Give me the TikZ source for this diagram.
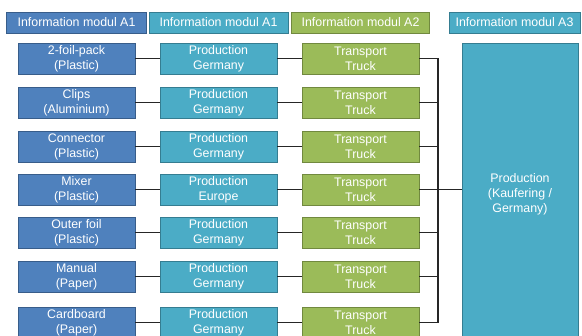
\documentclass[tikz,border=0pt]{standalone}
\usepackage{fontspec}
\setmainfont{Liberation Sans}
\usepackage{xcolor}
\usepackage{tikz}
\usetikzlibrary{positioning, calc}

\definecolor{modblue}{HTML}{4F81BD}
\definecolor{modblueline}{HTML}{385D8A}
\definecolor{modteal}{HTML}{4BACC6}
\definecolor{modtealline}{HTML}{357D91}
\definecolor{modgreen}{HTML}{9BBB59}
\definecolor{modgreenline}{HTML}{71893F}

\begin{document}
\begin{tikzpicture}[
    node distance=13pt and 25pt,
    headbox/.style={
        rectangle,
        line width=0.9pt,
        minimum height=21pt,
        inner sep=0pt,
        outer sep=0pt,
        text=white,
        font=\fontsize{12.4}{14}\selectfont
    },
    matbox/.style={
        rectangle,
        line width=0.9pt,
        minimum width=117pt,
        minimum height=31pt,
        inner sep=0pt,
        outer sep=0pt,
        align=center,
        text=white,
        font=\fontsize{12.4}{15}\selectfont
    },
    bluebox/.style={matbox, fill=modblue, draw=modblueline},
    tealbox/.style={matbox, fill=modteal, draw=modtealline},
    greenbox/.style={matbox, fill=modgreen, draw=modgreenline},
    link/.style={line width=1.1pt, black!85}
]
    \clip (0pt,0pt) rectangle (582pt,-336pt);

    % Materials
    \node[bluebox] (m1) at (76.5pt,-58.5pt) {2-foil-pack\\(Plastic)};
    \node[bluebox, below=of m1] (m2) {Clips\\(Aluminium)};
    \node[bluebox, below=of m2] (m3) {Connector\\(Plastic)};
    \node[bluebox, below=12pt of m3] (m4) {Mixer\\(Plastic)};
    \node[bluebox, below=12pt of m4] (m5) {Outer foil\\(Plastic)};
    \node[bluebox, below=of m5] (m6) {Manual\\(Paper)};
    \node[bluebox, below=15pt of m6] (m7) {Cardboard\\(Paper)};

    % Production
    \node[tealbox, right=of m1] (p1) {Production\\Germany};
    \node[tealbox, right=of m2] (p2) {Production\\Germany};
    \node[tealbox, right=of m3] (p3) {Production\\Germany};
    \node[tealbox, right=of m4] (p4) {Production\\Europe};
    \node[tealbox, right=of m5] (p5) {Production\\Germany};
    \node[tealbox, right=of m6] (p6) {Production\\Germany};
    \node[tealbox, right=of m7] (p7) {Production\\Germany};

    % Transport
    \node[greenbox, right=of p1] (t1) {Transport\\Truck};
    \node[greenbox, right=of p2] (t2) {Transport\\Truck};
    \node[greenbox, right=of p3] (t3) {Transport\\Truck};
    \node[greenbox, right=of p4] (t4) {Transport\\Truck};
    \node[greenbox, right=of p5] (t5) {Transport\\Truck};
    \node[greenbox, right=of p6] (t6) {Transport\\Truck};
    \node[greenbox, right=of p7] (t7) {Transport\\Truck};

    % Final production site
    \node[matbox, fill=modteal, draw=modtealline, minimum width=116pt,
          minimum height=302pt, anchor=north west]
          (site) at ($(t1.north east)+(43pt,0)$) {Production\\(Kaufering /\\Germany)};

    % Headers
    \node[headbox, fill=modblue, draw=modblueline, minimum width=140pt, above=10pt of m1] (h1) {Information modul A1};
    \node[headbox, fill=modteal, draw=modtealline, minimum width=139pt, above=10pt of p1] (h2) {Information modul A1};
    \node[headbox, fill=modgreen, draw=modgreenline, minimum width=138pt, above=10pt of t1] (h3) {Information modul A2};
    \node[headbox, fill=modteal, draw=modtealline, minimum width=131pt] (h4) at (514.5pt,-22.5pt) {Information modul A3};

    % Links
    \draw[link] (m1) -- (p1);
    \draw[link] (m2) -- (p2);
    \draw[link] (m3) -- (p3);
    \draw[link] (m4) -- (p4);
    \draw[link] (m5) -- (p5);
    \draw[link] (m6) -- (p6);
    \draw[link] (m7) -- (p7);

    \draw[link] (p1) -- (t1);
    \draw[link] (p2) -- (t2);
    \draw[link] (p3) -- (t3);
    \draw[link] (p4) -- (t4);
    \draw[link] (p5) -- (t5);
    \draw[link] (p6) -- (t6);
    \draw[link] (p7) -- (t7);

    % Bus to the site
    \coordinate (bus) at ($(t1.east)+(19pt,0)$);
    \draw[link] (t1.east) -- (bus) -- (bus |- t7.east) -- (t7.east);
    \draw[link] (t2.east) -- (t2.east -| bus);
    \draw[link] (t3.east) -- (t3.east -| bus);
    \draw[link] (t4.east) -- (t4.east -| bus);
    \draw[link] (t5.east) -- (t5.east -| bus);
    \draw[link] (t6.east) -- (t6.east -| bus);
    \draw[link] (t4.east -| bus) -- (t4.east -| site.west);
\end{tikzpicture}
\end{document}
